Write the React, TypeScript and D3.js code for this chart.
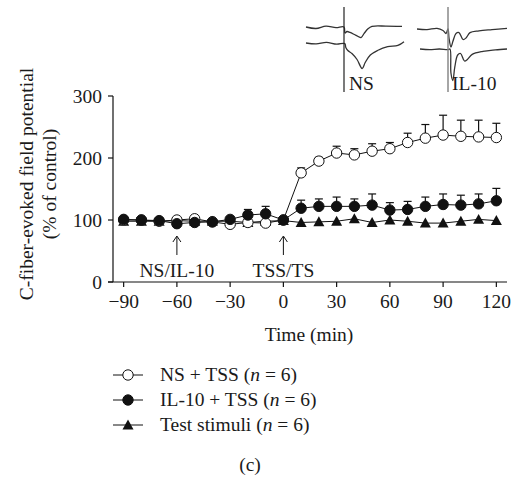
import * as d3 from 'd3';
import React from 'react';

const width = 514;
const height = 478;
const margin = { top: 96, right: 7, bottom: 196, left: 113 };
const font = 'Liberation Serif, Times New Roman, serif';
const fs = 19.5;

// time points (min)
const times = [-90, -80, -70, -60, -50, -40, -30, -20, -10, 0, 10, 20, 30, 40, 50, 60, 70, 80, 90, 100, 110, 120];

// mean values (% of control)
const nsTss = [100, 100, 98, 100, 102, 97, 93, 96, 95, 100, 176, 195, 208, 205, 211, 215, 225, 232, 237, 235, 234, 233];
const nsTssErr = [0, 0, 0, 0, 0, 0, 0, 0, 0, 0, 8, 6, 11, 10, 12, 10, 15, 22, 32, 26, 27, 23];
const il10Tss = [101, 100, 99, 94, 96, 97, 101, 108, 110, 100, 119, 122, 122, 122, 124, 116, 117, 122, 125, 124, 126, 131];
const il10TssErr = [0, 0, 0, 0, 0, 0, 0, 9, 12, 0, 13, 12, 15, 12, 18, 12, 13, 15, 17, 16, 16, 20];
const testStim = [98, 98, 98, 99, 98, 98, 98, 96, 98, 99, 96, 97, 98, 102, 96, 100, 98, 95, 95, 98, 101, 99];

const xTicks = [-90, -60, -30, 0, 30, 60, 90, 120];
const yTicks = [0, 100, 200, 300];

const events = [
  { t: -60, label: 'NS/IL-10' },
  { t: 0, label: 'TSS/TS' },
];

// inset recordings (sample index, relative amplitude)
const nsTop = [[0, 0], [10, 0.5], [20, -0.3], [30, 0.2], [38, 0], [39, 2], [41, 1.5], [44, 1.8], [50, 2.8], [55, 3.5], [58, 2.2], [62, 0.6], [66, -0.2], [80, -0.3], [96, -0.2]];
const nsBottom = [[0, 0], [10, 0.3], [20, -0.2], [30, 0.4], [38, 0.2], [39, 1.5], [41, 2.5], [45, 3.5], [50, 5.5], [55, 8.5], [58, 6.5], [63, 4], [70, 2.5], [80, 1.2], [90, 0.8], [96, -0.4]];
const ilTop = [[0, 0], [10, 0.2], [20, -0.2], [26, 0.5], [29, 1.5], [31, 0], [32, 3], [34, 6], [36, 4], [39, 1.5], [42, 1.2], [46, 3.5], [49, 3], [53, 1.2], [62, 0.6], [75, 0.2], [90, -0.2]];
const ilBottom = [[0, 0], [10, 0.2], [20, 0], [29, 0.2], [31, 0], [32, 8], [34, 10.5], [36, 6], [39, 2], [42, 1.5], [46, 4], [49, 3.5], [54, 1.8], [65, 0.8], [78, 0.3], [90, 0]];

const legendItems = [
  { key: 'ns', label: 'NS + TSS' },
  { key: 'il', label: 'IL-10 + TSS' },
  { key: 'ts', label: 'Test stimuli' },
];

const x = d3.scaleLinear().domain([-96, 126]).range([margin.left, width - margin.right]);
const y = d3.scaleLinear().domain([0, 300]).range([height - margin.bottom, margin.top]);

const lineGen = d3.line<number>().x((_, i) => x(times[i])).y((d) => y(d));

function Marker({ kind, cx, cy }: { kind: string; cx: number; cy: number }) {
  if (kind === 'ts') {
    const s = 5.5;
    return <path d={`M${cx},${cy - s}L${cx + s},${cy + s * 0.8}L${cx - s},${cy + s * 0.8}Z`} fill="#111" />;
  }
  return <circle cx={cx} cy={cy} r={5.2} fill={kind === 'ns' ? '#fff' : '#111'} stroke="#111" strokeWidth={1} />;
}

function Series({ kind, values, errs }: { kind: string; values: number[]; errs?: number[] }) {
  return (
    <g>
      <path d={lineGen(values) || ''} fill="none" stroke="#111" strokeWidth={1} />
      {errs &&
        values.map((v, i) =>
          errs[i] > 0 ? (
            <g key={i} stroke="#111" strokeWidth={1.2}>
              <line x1={x(times[i])} x2={x(times[i])} y1={y(v)} y2={y(v + errs[i])} />
              <line x1={x(times[i]) - 4} x2={x(times[i]) + 4} y1={y(v + errs[i])} y2={y(v + errs[i])} />
            </g>
          ) : null
        )}
      {values.map((v, i) => (
        <Marker key={i} kind={kind} cx={x(times[i])} cy={y(v)} />
      ))}
    </g>
  );
}

function Trace({ pts, x0, x1, y0, scale }: { pts: number[][]; x0: number; x1: number; y0: number; scale: number }) {
  const maxT = d3.max(pts, (p) => p[0]) as number;
  const tx = d3.scaleLinear().domain([0, maxT]).range([x0, x1]);
  const g = d3.line<number[]>().x((p) => tx(p[0])).y((p) => y0 + p[1] * scale).curve(d3.curveCatmullRom);
  return <path d={g(pts) || ''} fill="none" stroke="#333" strokeWidth={1.3} />;
}

export default function App() {
  return (
    <svg width={width} height={height} style={{ position: 'absolute', left: 0, top: 0, background: '#fff', fontFamily: font }} fill="#1a1a1a">
      {/* inset recordings */}
      <Trace pts={nsTop} x0={306} x1={402} y0={27} scale={3} />
      <Trace pts={nsBottom} x0={306} x1={404} y0={43} scale={3} />
      <line x1={344} x2={344} y1={7} y2={92} stroke="#222" strokeWidth={1.2} />
      <text x={349} y={90} fontSize={fs}>NS</text>
      <Trace pts={ilTop} x0={417} x1={507} y0={29} scale={3} />
      <Trace pts={ilBottom} x0={420} x1={507} y0={49} scale={3} />
      <line x1={448} x2={448} y1={7} y2={92} stroke="#888" strokeWidth={1.5} />
      <text x={452} y={90} fontSize={fs}>IL-10</text>

      {/* axes */}
      <line x1={margin.left} x2={margin.left} y1={y(300)} y2={y(0)} stroke="#111" strokeWidth={1.2} />
      <line x1={margin.left - 5} x2={width - margin.right} y1={y(0)} y2={y(0)} stroke="#111" strokeWidth={1.2} />
      {yTicks.map((t) => (
        <g key={t}>
          <line x1={margin.left - 5} x2={margin.left} y1={y(t)} y2={y(t)} stroke="#111" strokeWidth={1.2} />
          <text x={margin.left - 11} y={y(t)} dy="0.35em" textAnchor="end" fontSize={fs}>{t}</text>
        </g>
      ))}
      {xTicks.map((t) => (
        <g key={t}>
          <line x1={x(t)} x2={x(t)} y1={y(0)} y2={y(0) + 5} stroke="#111" strokeWidth={1.2} />
          <text x={x(t)} y={y(0) + 26} textAnchor="middle" fontSize={fs}>{t < 0 ? `\u2212${-t}` : t}</text>
        </g>
      ))}
      <text x={(x(-90) + x(120)) / 2 - 1} y={341} textAnchor="middle" fontSize={fs}>Time (min)</text>
      <g transform="translate(33,184) rotate(-90)">
        <text textAnchor="middle" fontSize={fs}>C-fiber-evoked field potential</text>
        <text y={23} textAnchor="middle" fontSize={fs}>(% of control)</text>
      </g>

      {/* event arrows */}
      {events.map((e) => (
        <g key={e.label}>
          <line x1={x(e.t)} x2={x(e.t)} y1={237} y2={255} stroke="#111" strokeWidth={1} />
          <path d={`M${x(e.t) - 4},${242}L${x(e.t)},${236}L${x(e.t) + 4},${242}`} fill="none" stroke="#111" strokeWidth={1} />
          <text x={x(e.t)} y={277} textAnchor="middle" fontSize={fs}>{e.label}</text>
        </g>
      ))}

      {/* data */}
      <Series kind="ts" values={testStim} />
      <Series kind="ns" values={nsTss} errs={nsTssErr} />
      <Series kind="il" values={il10Tss} errs={il10TssErr} />

      {/* legend */}
      {legendItems.map((it, i) => {
        const cy = 375 + i * 25;
        return (
          <g key={it.key}>
            <line x1={113} x2={143} y1={cy} y2={cy} stroke="#111" strokeWidth={1} />
            <Marker kind={it.key} cx={128} cy={cy} />
            <text x={160} y={cy} dy="0.33em" fontSize={fs}>
              {it.label} (<tspan fontStyle="italic">n</tspan> = 6)
            </text>
          </g>
        );
      })}
      <text x={250} y={465} dy="0.33em" textAnchor="middle" fontSize={fs}>(c)</text>
    </svg>
  );
}
